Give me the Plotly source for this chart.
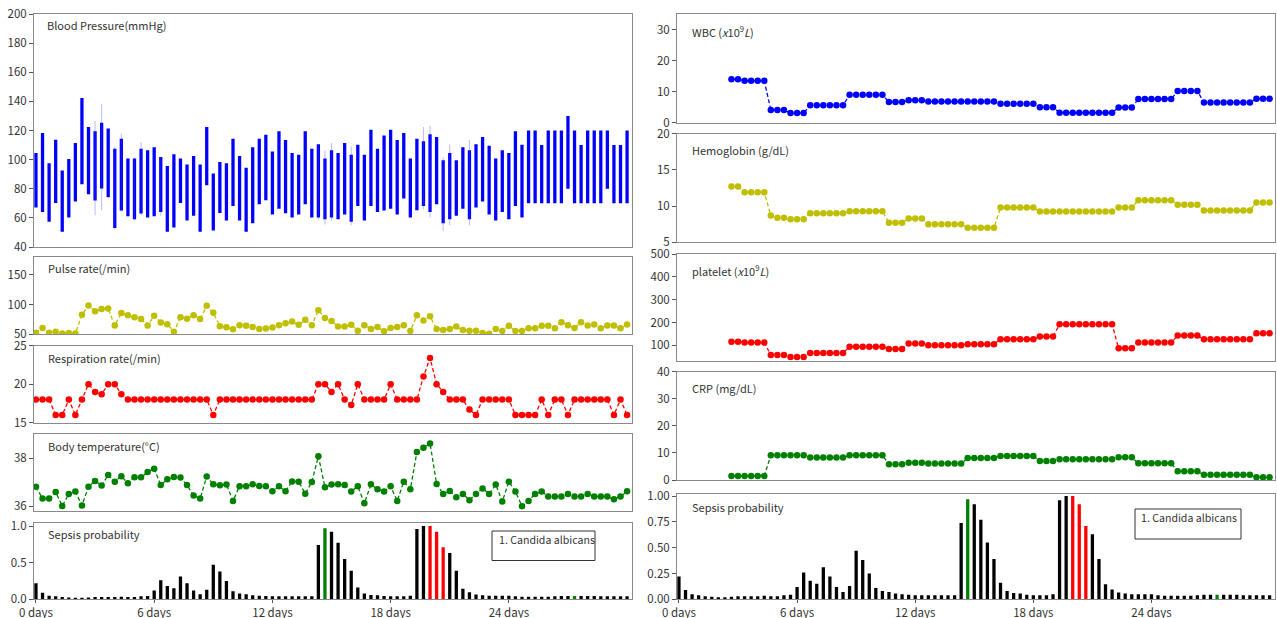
import plotly.graph_objects as go

W, H = 1277, 618
FONT = "Noto Sans CJK KR"
TXT = "#333333"
FRAME = "#8a8a8a"

# ---------------- data ----------------
n_steps = 91
t_days = [k / 3 for k in range(n_steps)]      # 8-hourly samples, in days
lab_start = 8                                  # labs start at sample 8
lab_t = t_days[lab_start:]

bp_sys = [104.6, 118.3, 97.5, 113.7, 92.5, 100.5, 111.4, 142.3, 122.4, 119.4,
          125.4, 121.3, 107.5, 114.4, 100.7, 100.7, 107.5, 106.4, 108.5, 101.8,
          95.7, 103.7, 100.7, 96.6, 102.5, 96.6, 122.4, 90.4, 98.4, 97.5,
          114.4, 102.5, 94.5, 108.5, 114.4, 117.1, 105.5, 119.4, 113.5, 104.6,
          103.4, 119.4, 107.5, 110.5, 100.7, 106.4, 104.6, 111.4, 103.4, 110.3,
          103.4, 120.6, 107.5, 116.5, 120.6, 113.5, 118.3, 100.7, 114.4, 112.6,
          117.4, 115.5, 99.5, 104.6, 99.5, 108.5, 106.4, 110.5, 115.5, 109.6,
          100.7, 106.4, 104.6, 119.4, 110.3, 120, 120, 110, 120, 120,
          120, 130, 120, 110, 120, 120, 120, 120, 110, 110, 120]
bp_dia = [67.1, 64.1, 57.3, 70.3, 50.4, 60.2, 71.2, 83.1, 76.2, 71.9,
          80.1, 74.2, 53.1, 65.0, 61.1, 59.1, 63.0, 60.2, 61.1, 64.1,
          50.4, 53.4, 70.3, 58.2, 61.4, 50.4, 82.4, 51.3, 63.4, 58.2,
          68.2, 58.2, 50.4, 56.3, 69.4, 72.1, 62.3, 66.2, 63.2, 60.2,
          62.3, 69.4, 60.2, 60.2, 59.1, 60.2, 59.1, 62.3, 57.3, 68.2,
          58.2, 68.2, 64.1, 65.0, 66.2, 62.3, 73.3, 60.2, 65.3, 68.2,
          64.1, 69.4, 56.3, 59.1, 61.4, 66.2, 59.1, 67.1, 71.2, 62.3,
          58.2, 64.1, 59.1, 68.2, 60.2, 70, 70, 70, 70, 70,
          70, 80, 70, 70, 70, 70, 70, 80, 70, 70, 70]
# thin range lines (min / max) where they extend beyond the bar
bp_wick_idx = [9, 10, 12, 13, 15, 16, 19, 43, 44, 45, 48, 59, 60, 62, 63, 66]
bp_wick_low = [61.8, 65.3, 52.0, 64.0, 58.5, 62.0, 61.4, 59.0, 55.4, 58.2, 55.0, 66.0, 60.2, 50.9, 55.0, 55.0]
bp_wick_high = [126.5, 138.2, 109.0, 117.8, 101.5, 112.1, 102.0, 110.5, 106.2, 111.4, 109.1, 122.4, 123.3, 101.5, 110.3, 113.5]

pulse = [52.3, 60.3, 52.3, 54, 51, 51.7, 51, 82.8, 98.3, 88.5,
         92.5, 93.1, 64.4, 85.6, 81.6, 78.2, 75.3, 64.4, 81, 69.5,
         66.7, 54, 78.2, 75.9, 81.6, 75.3, 97.7, 86.2, 63.2, 61.5,
         58, 65, 63.8, 62, 58.6, 59.2, 61, 65, 68.4, 71.3,
         65.5, 74.1, 65, 90.2, 77, 72, 62.6, 62.6, 65.5, 55.7,
         65, 58.6, 62, 54.6, 60.3, 62, 65, 55.2, 81.6, 73,
         79.9, 58.6, 56.9, 58.6, 62.6, 56.9, 55.7, 55.7, 51.7, 50.6,
         58.6, 55.2, 63.8, 55.2, 55.2, 59.8, 59.8, 63.8, 63.8, 59.8,
         70.1, 65, 60.3, 70.1, 64.4, 66.1, 59.8, 64.4, 64.4, 59.8, 66.1]

resp = [18, 18, 18, 16, 16, 18, 16, 18, 20, 19,
        18.7, 20, 20, 18.7, 18, 18, 18, 18, 18, 18,
        18, 18, 18, 18, 18, 18, 18, 16, 18, 18,
        18, 18, 18, 18, 18, 18, 18, 18, 18, 18,
        18, 18, 18, 20, 20, 19, 20, 18, 17.3, 20,
        18, 18, 18, 18, 20, 18, 18, 18, 18, 21,
        23.4, 20, 19, 18, 18, 18, 16.7, 16, 18, 18,
        18, 18, 18, 16, 16, 16, 16, 18, 16, 18,
        18, 16, 18, 18, 18, 18, 18, 18, 16, 18, 16]

temp = [36.81, 36.32, 36.32, 36.59, 36.01, 36.51, 36.61, 36.03, 36.81, 37.05,
        36.86, 37.3, 37.02, 37.24, 36.95, 37.2, 37.2, 37.42, 37.56, 36.88,
        37.12, 37.21, 37.19, 36.88, 36.44, 36.32, 37.23, 36.91, 36.87, 36.9,
        36.22, 36.83, 36.83, 36.91, 36.84, 36.83, 36.62, 36.83, 36.62, 37.03,
        37.02, 36.52, 37.01, 38.08, 36.79, 36.9, 36.91, 36.88, 36.61, 36.83,
        36.12, 36.91, 36.7, 36.61, 36.83, 36.22, 37.02, 36.7, 38.25, 38.43,
        38.61, 36.92, 36.51, 36.63, 36.37, 36.51, 36.25, 36.51, 36.74, 36.51,
        36.9, 36.19, 37.02, 36.61, 36.0, 36.22, 36.51, 36.61, 36.4, 36.4,
        36.4, 36.51, 36.4, 36.4, 36.51, 36.4, 36.4, 36.4, 36.29, 36.4, 36.62]

sepsis = [0.22, 0.09, 0.05, 0.04, 0.03, 0.025, 0.02, 0.02, 0.025, 0.03,
          0.03, 0.03, 0.03, 0.035, 0.03, 0.03, 0.04, 0.045, 0.12, 0.26,
          0.18, 0.15, 0.31, 0.22, 0.12, 0.07, 0.13, 0.47, 0.38, 0.25,
          0.11, 0.08, 0.07, 0.055, 0.05, 0.045, 0.04, 0.04, 0.04, 0.04,
          0.04, 0.04, 0.04, 0.74, 0.97, 0.92, 0.77, 0.55, 0.39, 0.16,
          0.08, 0.06, 0.055, 0.045, 0.04, 0.04, 0.04, 0.05, 0.96, 1.00,
          1.00, 0.92, 0.71, 0.63, 0.39, 0.145, 0.095, 0.065, 0.055, 0.05,
          0.05, 0.05, 0.05, 0.04, 0.035, 0.035, 0.035, 0.035, 0.035, 0.04,
          0.045, 0.045, 0.045, 0.045, 0.045, 0.045, 0.04, 0.04, 0.04, 0.04, 0.04]
sepsis_green_idx = [44, 82]
sepsis_red_idx = [60, 61, 62]

wbc = [14.0, 14.0, 13.5, 13.5, 13.5, 13.5, 4.1, 4.1, 4.1, 3.1, 3.1, 3.1,
       5.6, 5.6, 5.6, 5.6, 5.6, 5.6, 9.0, 9.0, 9.0, 9.0, 9.0, 9.0,
       6.7, 6.7, 6.7, 7.2, 7.2, 7.2,
       6.8, 6.8, 6.8, 6.8, 6.8, 6.8, 6.8, 6.8, 6.8, 6.8, 6.8,
       6.1, 6.1, 6.1, 6.1, 6.1, 6.1, 5.0, 5.0, 5.0,
       3.2, 3.2, 3.2, 3.2, 3.2, 3.2, 3.2, 3.2, 3.2, 4.9, 4.9, 4.9,
       7.6, 7.6, 7.6, 7.6, 7.6, 7.6, 10.2, 10.2, 10.2, 10.2,
       6.5, 6.5, 6.5, 6.5, 6.5, 6.5, 6.5, 6.5, 7.7, 7.7, 7.7]
hgb = [12.7, 12.7, 11.9, 11.9, 11.9, 11.9, 8.7, 8.4, 8.4, 8.2, 8.2, 8.2,
       9.0, 9.0, 9.0, 9.0, 9.0, 9.0, 9.3, 9.3, 9.3, 9.3, 9.3, 9.3,
       7.7, 7.7, 7.7, 8.3, 8.3, 8.3,
       7.5, 7.5, 7.5, 7.5, 7.5, 7.5, 7.0, 7.0, 7.0, 7.0, 7.0,
       9.8, 9.8, 9.8, 9.8, 9.8, 9.8, 9.25, 9.25, 9.25,
       9.25, 9.25, 9.25, 9.25, 9.25, 9.25, 9.25, 9.25, 9.25, 9.8, 9.8, 9.8,
       10.8, 10.8, 10.8, 10.8, 10.8, 10.8, 10.2, 10.2, 10.2, 10.2,
       9.4, 9.4, 9.4, 9.4, 9.4, 9.4, 9.4, 9.4, 10.5, 10.5, 10.5]
platelet = [116, 116, 112, 112, 112, 112, 58, 58, 58, 49, 49, 49,
            66, 66, 66, 66, 66, 66, 94, 94, 94, 94, 94, 94,
            84, 84, 84, 108, 108, 108,
            100, 100, 100, 100, 100, 100, 105, 105, 105, 105, 105,
            127, 127, 127, 127, 127, 127, 138, 138, 138,
            192, 192, 192, 192, 192, 192, 192, 192, 192, 87, 87, 87,
            112, 112, 112, 112, 112, 112, 143, 143, 143, 143,
            126, 126, 126, 126, 126, 126, 126, 126, 153, 153, 153]
crp = [1.5, 1.5, 1.5, 1.5, 1.5, 1.5, 9.1, 9.1, 9.1, 9.1, 9.1, 9.1,
       8.3, 8.3, 8.3, 8.3, 8.3, 8.3, 9.1, 9.1, 9.1, 9.1, 9.1, 9.1,
       5.8, 5.8, 5.8, 6.4, 6.4, 6.4,
       6.1, 6.1, 6.1, 6.1, 6.1, 6.1, 8.1, 8.1, 8.1, 8.1, 8.1,
       8.9, 8.9, 8.9, 8.9, 8.9, 8.9, 7.0, 7.0, 7.0,
       7.7, 7.7, 7.7, 7.7, 7.7, 7.7, 7.7, 7.7, 7.7, 8.4, 8.4, 8.4,
       6.2, 6.2, 6.2, 6.2, 6.2, 6.2, 3.2, 3.2, 3.2, 3.2,
       1.9, 1.9, 1.9, 1.9, 1.9, 1.9, 1.9, 1.9, 1.0, 1.0, 1.0]

x_tick_vals = [0, 6, 12, 18, 24]
x_tick_text = ["0 days", "6 days", "12 days", "18 days", "24 days"]
legend_text = "1. Candida albicans"

for arr in (wbc, hgb, platelet, crp):
    assert len(arr) == len(lab_t), len(arr)

# ---------------- layout helpers ----------------
XR = [-0.125, 30.25]
LEFT = (33.5, 632.0)
RIGHT = (676.5, 1274.5)

panels = {
    # n: (column, top px, bottom px, y range, tick vals, tick text, show x ticks)
    1: (LEFT, 14.0, 247.0, [40, 200], [40, 60, 80, 100, 120, 140, 160, 180, 200], None, False),
    2: (LEFT, 256.7, 334.0, [50, 181], [50, 100, 150], None, False),
    3: (LEFT, 345.7, 422.7, [15, 25], [15, 20, 25], None, False),
    4: (LEFT, 434.0, 511.0, [35.8, 39.0], [36, 38], None, False),
    5: (LEFT, 522.7, 599.3, [0, 1.045], [0, 0.5, 1.0], ["0.0", "0.5", "1.0"], True),
    6: (RIGHT, 14.0, 122.7, [0, 35], [0, 10, 20, 30], None, False),
    7: (RIGHT, 133.7, 242.3, [5, 20], [5, 10, 15, 20], None, False),
    8: (RIGHT, 254.0, 360.7, [32.5, 500], [100, 200, 300, 400, 500], None, False),
    9: (RIGHT, 371.7, 480.0, [0, 40], [0, 10, 20, 30, 40], None, False),
    10: (RIGHT, 494.0, 599.3, [0, 1.02], [0, 0.25, 0.5, 0.75, 1.0],
         ["0.00", "0.25", "0.50", "0.75", "1.00"], True),
}

layout = dict(
    width=W, height=H, margin=dict(l=0, r=0, t=0, b=0, autoexpand=False),
    paper_bgcolor="white", plot_bgcolor="white", showlegend=False,
    barmode="overlay", font=dict(family=FONT, size=11, color=TXT),
)
for n, (col, top, bot, yr, tv, tt, showx) in panels.items():
    sx = "" if n == 1 else str(n)
    xax = dict(
        domain=[col[0] / W, col[1] / W], range=XR, anchor="y" + sx, automargin=False,
        showline=True, mirror=True, linecolor=FRAME, linewidth=1,
        showgrid=False, zeroline=False, showticklabels=showx,
    )
    if showx:
        xax.update(tickvals=x_tick_vals, ticktext=x_tick_text, ticks="outside",
                   ticklen=3, tickcolor="#555",
                   tickfont=dict(family=FONT, size=11.5, color=TXT))
    else:
        xax.update(ticks="", tickvals=[])
    layout["xaxis" + sx] = xax
    yax = dict(
        domain=[1 - bot / H, 1 - top / H], range=yr, anchor="x" + sx, automargin=False,
        showline=True, mirror=True, linecolor=FRAME, linewidth=1,
        showgrid=False, zeroline=False, tickvals=tv,
        ticks="outside", ticklen=3.5, tickcolor="#555",
        tickfont=dict(family=FONT, size=11.5, color=TXT),
    )
    if tt is not None:
        yax["ticktext"] = tt
    layout["yaxis" + sx] = yax

fig = go.Figure(layout=layout)


def ax(n):
    return ("x", "y") if n == 1 else ("x" + str(n), "y" + str(n))


# Blood pressure: range lines then bars
wx, wy = [], []
for i, lo, hi in zip(bp_wick_idx, bp_wick_low, bp_wick_high):
    wx += [t_days[i], t_days[i], None]
    wy += [lo, hi, None]
xa, ya = ax(1)
fig.add_trace(go.Scatter(x=wx, y=wy, mode="lines", xaxis=xa, yaxis=ya,
                         line=dict(color="rgba(60,60,255,0.35)", width=1), hoverinfo="skip"))
fig.add_trace(go.Bar(x=t_days, y=[s - d for s, d in zip(bp_sys, bp_dia)], base=bp_dia,
                     width=1 / 6, xaxis=xa, yaxis=ya,
                     marker=dict(color="#0000ff", line=dict(width=0))))


def add_line(n, x, y, color):
    xa, ya = ax(n)
    fig.add_trace(go.Scatter(x=x, y=y, mode="lines+markers", xaxis=xa, yaxis=ya,
                             line=dict(color=color, width=1.3, dash="4px,2.5px"),
                             marker=dict(color=color, size=6.5, line=dict(width=0))))


YEL = "#bfbf00"
add_line(2, t_days, pulse, YEL)
add_line(3, t_days, resp, "#ff0000")
add_line(4, t_days, temp, "#008000")
add_line(6, lab_t, wbc, "#0000ff")
add_line(7, lab_t, hgb, YEL)
add_line(8, lab_t, platelet, "#ff0000")
add_line(9, lab_t, crp, "#008000")

bar_colors = []
for i in range(n_steps):
    if i in sepsis_green_idx:
        bar_colors.append("#008000")
    elif i in sepsis_red_idx:
        bar_colors.append("#ff0000")
    else:
        bar_colors.append("#000000")
for n in (5, 10):
    xa, ya = ax(n)
    fig.add_trace(go.Bar(x=t_days, y=sepsis, width=1 / 6, xaxis=xa, yaxis=ya,
                         marker=dict(color=bar_colors, line=dict(width=0))))

# panel titles (pixel positions)
titles = [
    ("Blood Pressure(mmHg)", 44.5, 25.3),
    ("Pulse rate(/min)", 45.5, 268.3),
    ("Respiration rate(/min)", 45.5, 357.7),
    ("Body temperature(°C)", 45.5, 446.0),
    ("Sepsis probability", 45.5, 534.3),
    ("WBC (<i>x</i>10<sup>9</sup><i>L</i>)", 689.5, 31.0),
    ("Hemoglobin (g/dL)", 689.5, 150.0),
    ("platelet (<i>x</i>10<sup>9</sup><i>L</i>)", 689.5, 270.0),
    ("CRP (mg/dL)", 689.5, 388.3),
    ("Sepsis probability", 689.5, 507.3),
]
annotations = []
for text, px, py in titles:
    annotations.append(dict(text=text, x=px / W, y=1 - py / H, xref="paper", yref="paper",
                            xanchor="left", yanchor="middle", showarrow=False,
                            font=dict(family=FONT, size=11, color=TXT)))

# legend-like boxes
boxes = [((492, 531, 595, 560.5), (497, 539.3)),
         ((1135, 509, 1241, 539), (1139, 517.7))]
shapes = []
for (x0, y0, x1, y1), (tx, ty) in boxes:
    shapes.append(dict(type="rect", xref="paper", yref="paper",
                       x0=x0 / W, x1=x1 / W, y0=1 - y1 / H, y1=1 - y0 / H,
                       line=dict(color="#333", width=1), fillcolor="white", layer="above"))
    annotations.append(dict(text=legend_text, x=tx / W, y=1 - ty / H, xref="paper", yref="paper",
                            xanchor="left", yanchor="middle", showarrow=False,
                            font=dict(family=FONT, size=10.6, color=TXT)))

fig.update_layout(annotations=annotations, shapes=shapes)
fig.write_html("out.html", config={"displayModeBar": False},
               post_script="document.body.style.margin='0px';document.body.style.overflow='hidden';")
